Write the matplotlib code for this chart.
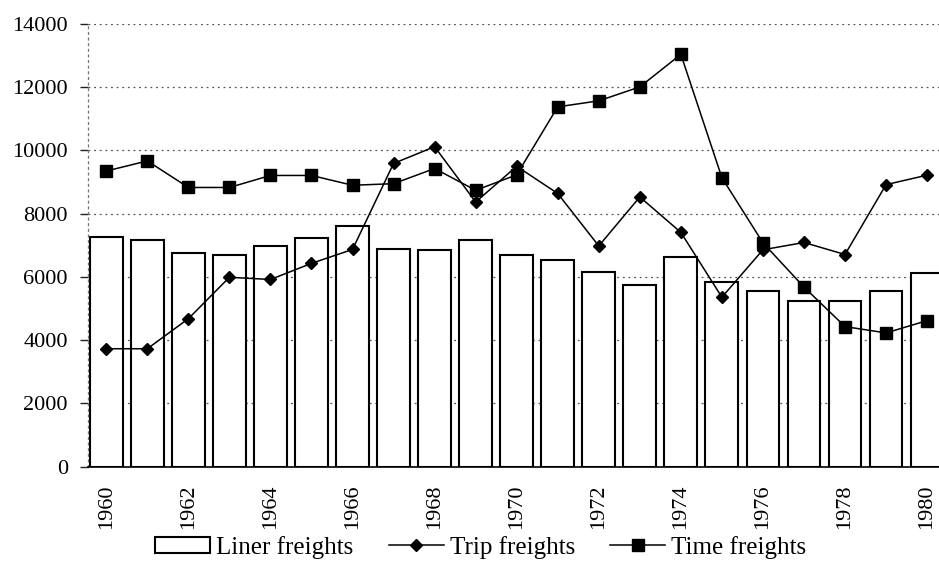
import matplotlib
matplotlib.use("Agg")
import matplotlib.pyplot as plt
import numpy as np

years = list(range(1960, 1981))
liner = [7250, 7160, 6770, 6700, 6970, 7220, 7610, 6900, 6860, 7170, 6700,
         6540, 6150, 5760, 6640, 5830, 5570, 5230, 5250, 5570, 6140]
trip = [3730, 3730, 4680, 5990, 5920, 6430, 6870, 9590, 10120, 8370, 9500,
        8640, 6980, 8530, 7410, 5360, 6860, 7090, 6710, 8920, 9220]
time_f = [9350, 9670, 8830, 8830, 9210, 9210, 8900, 8950, 9430, 8740, 9230,
          11380, 11570, 12010, 13040, 9140, 7080, 5680, 4430, 4230, 4620]
yticks = [0, 2000, 4000, 6000, 8000, 10000, 12000, 14000]

plt.rcParams['font.family'] = ['Liberation Serif', 'DejaVu Serif']

fig = plt.figure(figsize=(9.39, 5.62), dpi=100)
ax = fig.add_axes([0.0937, 0.1696, 0.9063, 0.7877])

x = np.arange(len(years))
b = ax.bar(x, liner, width=0.8, color='white', edgecolor='black', linewidth=1.5,
           label='Liner freights', zorder=2)
l1, = ax.plot(x, trip, color='black', lw=1.1, marker='D', markersize=6.5,
              label='Trip freights', zorder=3)
l2, = ax.plot(x, time_f, color='black', lw=1.1, marker='s', markersize=9,
              label='Time freights', zorder=3)

ax.set_ylim(0, 14000)
ax.set_xlim(-0.446, 20.29)
ax.set_yticks(yticks)
ax.set_yticklabels([str(v) for v in yticks], fontsize=16)
ax.set_xticks(x[::2])
ax.set_xticklabels([str(y) for y in years[::2]], rotation=90, fontsize=16)
ax.tick_params(axis='y', length=5.5, width=1.0, color='#222222', pad=9)
ax.tick_params(axis='x', length=0, pad=13)

for v in yticks[1:]:
    ax.axhline(v, color='#555555', lw=0.9, ls=(0, (1.5, 3)), zorder=1)

for s in ['top', 'right']:
    ax.spines[s].set_visible(False)
ax.spines['left'].set_linestyle((0, (1.5, 3)))
ax.spines['left'].set_color('#777777')
ax.spines['left'].set_linewidth(0.9)
ax.spines['bottom'].set_color('black')
ax.spines['bottom'].set_linewidth(1.2)

fig.legend(handles=[b, l1, l2], loc='lower center', bbox_to_anchor=(0.512, -0.012),
           ncol=3, frameon=False, fontsize=18, handlelength=2.2, handleheight=0.6,
           columnspacing=1.4, handletextpad=0.25, borderaxespad=0.0)

fig.savefig('out.png', dpi=100)
